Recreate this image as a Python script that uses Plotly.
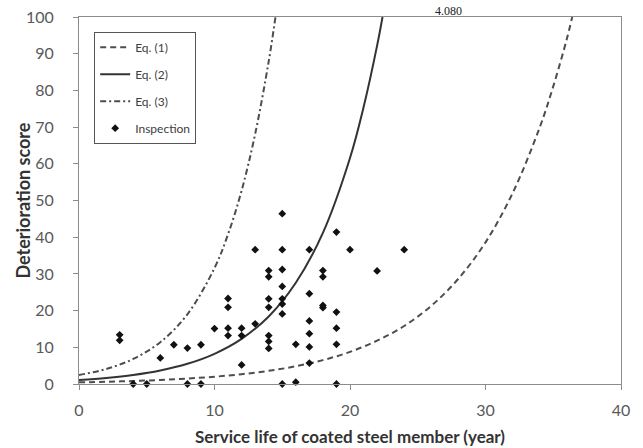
import plotly.graph_objects as go

# Inspection data (service life in years, deterioration score)
insp_x = [3, 3, 4, 5, 6, 7, 8, 8, 9, 9, 10,
          11, 11, 11, 11, 12, 12, 12, 13, 13,
          14, 14, 14, 14, 14, 14, 14,
          15, 15, 15, 15, 15, 15, 15, 15,
          16, 16, 17, 17, 17, 17, 17, 17,
          18, 18, 18, 18, 19, 19, 19, 19, 19,
          20, 22, 24]
insp_y = [13.4, 11.9, 0, 0, 7.1, 10.7, 9.8, 0, 10.7, 0, 15.1,
          23.3, 20.9, 15.2, 13.2, 15.2, 13.2, 5.2, 36.6, 16.4,
          30.9, 29.2, 23.2, 20.9, 13.2, 11.6, 9.7,
          46.4, 36.6, 31.2, 26.6, 23.2, 21.8, 19.1, 0,
          10.8, 0.5, 36.6, 24.6, 17.2, 13.7, 10.1, 5.7,
          30.9, 29.2, 21.4, 20.8, 41.4, 19.6, 15.2, 10.8, 0,
          36.6, 30.8, 36.6]

# Model curves
eq1_x = [0, 2, 4, 6, 8, 10, 12, 14, 16, 18, 20, 22, 24, 26, 28, 30, 32, 34, 35, 36, 36.4]
eq1_y = [0.45, 0.61, 0.82, 1.10, 1.48, 1.98, 2.67, 3.59, 4.83, 6.51, 8.75, 11.8, 15.8,
         21.3, 28.7, 38.6, 52.0, 69.9, 81.1, 94.0, 100]
eq2_x = [0, 2, 4, 6, 8, 10, 12, 14, 16, 18, 20, 21, 22, 22.4]
eq2_y = [1.1, 1.65, 2.46, 3.68, 5.50, 8.23, 12.3, 18.4, 27.6, 41.2, 61.6, 75.4, 92.2, 100]
eq3_x = [0, 2, 4, 6, 8, 10, 11, 12, 13, 14, 14.5]
eq3_y = [2.45, 4.09, 6.82, 11.4, 19.0, 31.6, 40.8, 52.7, 68.1, 87.9, 100]

x_ticks = [0, 10, 20, 30, 40]
y_ticks = [0, 10, 20, 30, 40, 50, 60, 70, 80, 90, 100]

FONT = "Lato"
fig = go.Figure()
fig.add_trace(go.Scatter(x=eq1_x, y=eq1_y, mode="lines", name="Eq. (1)",
                         line=dict(color="#4d4d4d", width=2, dash="6px,4px", shape="spline"),
                         legendgroup="a"))
fig.add_trace(go.Scatter(x=eq2_x, y=eq2_y, mode="lines", name="Eq. (2)",
                         line=dict(color="#333333", width=2, shape="spline"),
                         legendgroup="b"))
fig.add_trace(go.Scatter(x=eq3_x, y=eq3_y, mode="lines", name="Eq. (3)",
                         line=dict(color="#4d4d4d", width=2, dash="6px,3px,2px,3px", shape="spline"),
                         legendgroup="c"))
fig.add_trace(go.Scatter(x=insp_x, y=insp_y, mode="markers", name="Inspection",
                         marker=dict(symbol="diamond", size=6, color="#111111"),
                         legendgroup="d", cliponaxis=False))

axis_common = dict(showline=True, linecolor="#8c8c8c", linewidth=1, mirror=True,
                   showgrid=False, zeroline=False, ticks="outside", ticklen=5,
                   tickcolor="#8c8c8c", tickfont=dict(family=FONT, size=16, color="#595959"),
                   automargin=False)
fig.update_layout(
    width=643, height=448,
    margin=dict(l=79, r=22, t=17, b=64),
    paper_bgcolor="white", plot_bgcolor="white",
    xaxis=dict(range=[0, 40], tickvals=x_ticks, ticklabelstandoff=7,
               title=dict(text="<b>Service life of coated steel member (year)</b>",
                          font=dict(family=FONT, size=17, color="#333333"), standoff=12),
               **axis_common),
    yaxis=dict(range=[0, 100], tickvals=y_ticks, ticklabelstandoff=16,
               **axis_common),
    legend=dict(x=0.028, y=0.96, xanchor="left", yanchor="top",
                bordercolor="#555555", borderwidth=1, bgcolor="white",
                font=dict(family=FONT, size=12, color="#404040"),
                itemwidth=30, tracegroupgap=8),
    showlegend=True,
)
# y-axis title placed as a rotated annotation to sit close to the tick labels
fig.add_annotation(text="<b>Deterioration score</b>", xref="paper", yref="paper",
                   x=(22 - 79) / 542, y=0.5, xanchor="center", yanchor="middle",
                   textangle=-90, showarrow=False,
                   font=dict(family=FONT, size=18, color="#333333"))
fig.add_annotation(text="4.080", xref="paper", yref="paper", x=(464 - 79) / 542,
                   y=(383.5 - 1) / 367, showarrow=False, yanchor="top",
                   font=dict(family="Liberation Serif", size=12, color="#222222"))
fig.write_html("out.html", config={"displayModeBar": False},
               post_script="document.body.style.margin='0';document.body.style.overflow='hidden';")
